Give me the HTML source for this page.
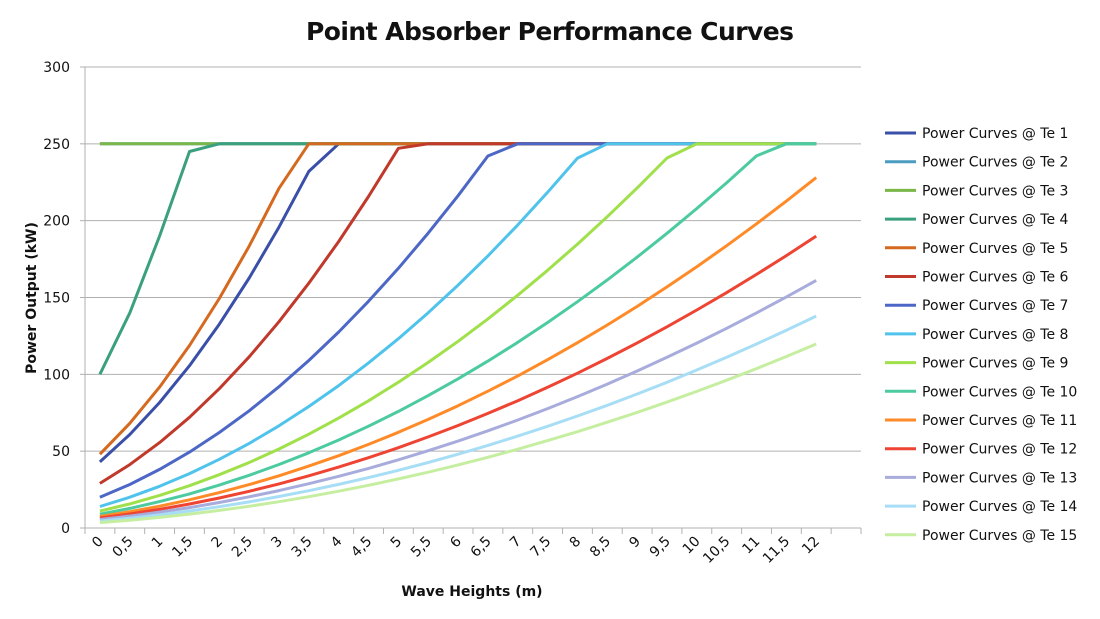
<!DOCTYPE html>
<html><head><meta charset="utf-8"><style>
html,body{margin:0;padding:0;background:#fff;}
svg{display:block;font-family:"DejaVu Sans","Liberation Sans",sans-serif;}
</style></head><body>
<svg id="c" width="1100" height="619" viewBox="0 0 1100 619" xmlns="http://www.w3.org/2000/svg">
<text x="550" y="40" text-anchor="middle" font-size="25" font-weight="bold" fill="#111" textLength="488">Point Absorber Performance Curves</text>
<g id="grid" stroke="#b0b0b0" stroke-width="1"></g>
<g id="series" fill="none" stroke-width="3" stroke-linejoin="round"></g>
<g id="labels" font-size="14" fill="#111"></g>
<text x="472" y="596" text-anchor="middle" font-size="14" font-weight="bold" fill="#111">Wave Heights (m)</text>
<text transform="translate(36,298) rotate(-90)" text-anchor="middle" font-size="14" font-weight="bold" fill="#111">Power Output (kW)</text>
<g id="legend" font-size="14" fill="#111"></g>
</svg>
<script>
var NS="http://www.w3.org/2000/svg";
function el(p,t,a,txt){var e=document.createElementNS(NS,t);for(var k in a)e.setAttribute(k,a[k]);if(txt!==undefined)e.textContent=txt;document.getElementById(p).appendChild(e);return e;}
var X0=85,X1=861,Y0=528,SC=461/300,STEP=(X1-X0)/26;
function yp(v){return Y0-v*SC;}
function xp(i){return X0+STEP/2+STEP*i;}
for(var v=0;v<=300;v+=50){
 if(v>0) el("grid","line",{x1:X0,x2:X1,y1:yp(v),y2:yp(v)});
 el("labels","text",{x:70,y:yp(v)+5,"text-anchor":"end"},String(v));
 el("grid","line",{x1:X0-5,x2:X0,y1:yp(v),y2:yp(v)});
}
el("grid","line",{x1:X0,x2:X0,y1:yp(300),y2:Y0});
el("grid","line",{x1:X0,x2:X1,y1:Y0,y2:Y0});
for(var i=0;i<=26;i++){var x=X0+STEP*i;el("grid","line",{x1:x,x2:x,y1:Y0,y2:Y0+6});}
for(var i=0;i<25;i++){var lab=(i%2==0)?String(i/2):(Math.floor(i/2)+",5");
 var x=xp(i)+4,y=Y0+14;el("labels","text",{x:x,y:y,"text-anchor":"end",transform:"rotate(-45 "+x+" "+y+")"},lab);}
function quad(s0,d){var a=[];for(var i=0;i<25;i++){var v=Math.pow(s0+d*i,2);a.push(Math.min(250,v));}return a;}
function expl(arr){var a=[];for(var i=0;i<25;i++)a.push(i<arr.length?arr[i]:250);return a;}
var flat=expl([250]);
var S=[
 ["#3a4fa8",quad(6.56,1.239)],
 ["#4a9cc0",flat],
 ["#7ab648",flat],
 ["#3aa07f",expl([100,140,190,245,250])],
 ["#d4691f",quad(6.93,1.323)],
 ["#c0392b",quad(5.39,1.033)],
 ["#4d67c7",quad(4.47,0.853)],
 ["#4fc3ec",quad(3.74,0.736)],
 ["#a0e04a",quad(3.32,0.642)],
 ["#4ccaa0",quad(3.0,0.571)],
 ["#ff8a28",quad(2.74,0.515)],
 ["#ee4433",quad(2.55,0.468)],
 ["#a8acdc",quad(2.35,0.431)],
 ["#a8def5",quad(2.12,0.401)],
 ["#c6eea0",quad(1.87,0.378)]
];
for(var s=0;s<S.length;s++){
 var pts=S[s][1].map(function(v,i){return xp(i).toFixed(1)+","+yp(v).toFixed(1);}).join(" ");
 el("series","polyline",{points:pts,stroke:S[s][0]});
}
for(var s=0;s<S.length;s++){
 var y=133+s*28.7;
 el("legend","line",{x1:885,x2:916,y1:y,y2:y,stroke:S[s][0],"stroke-width":3});
 el("legend","text",{x:922,y:y+5},"Power Curves @ Te "+(s+1));
}
</script>
</body></html>
